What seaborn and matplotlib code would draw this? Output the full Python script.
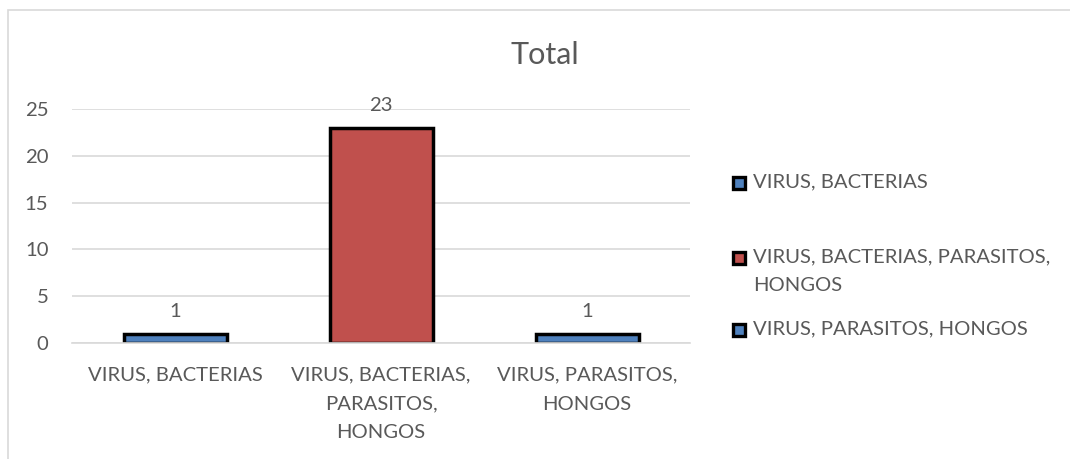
import matplotlib
matplotlib.use("Agg")
import matplotlib.pyplot as plt
from matplotlib.patches import Rectangle
import seaborn as sns
import pandas as pd

categories = ["VIRUS, BACTERIAS",
              "VIRUS, BACTERIAS, PARASITOS, HONGOS",
              "VIRUS, PARASITOS, HONGOS"]
tick_labels = ["VIRUS, BACTERIAS",
               "VIRUS, BACTERIAS,\nPARASITOS,\nHONGOS",
               "VIRUS, PARASITOS,\nHONGOS"]
legend_labels = ["VIRUS, BACTERIAS",
                 "VIRUS, BACTERIAS, PARASITOS,\nHONGOS",
                 "VIRUS, PARASITOS, HONGOS"]
values = [1, 23, 1]
colors = ["#4F81BD", "#C0504D", "#4F81BD"]

sns.set_style("white")
plt.rcParams["font.family"] = ["Lato", "DejaVu Sans"]
TXT = "#595959"
GRID = "#D9D9D9"
FS = 14.6

df = pd.DataFrame({"cat": categories, "val": values})

fig = plt.figure(figsize=(10.7, 4.59), dpi=100)
fig.patches.append(Rectangle((0.0075, -0.1), 1.2, 1.078, transform=fig.transFigure,
                             fill=False, edgecolor=GRID, linewidth=1.2))
ax = fig.add_axes([0.0673, 0.2527, 0.5776, 0.5098])

sns.barplot(data=df, x="cat", y="val", hue="cat", palette=colors,
            saturation=1, dodge=False, width=0.5, edgecolor="black",
            linewidth=2.5, legend=False, ax=ax)

ax.set_ylim(0, 25)
ax.set_xlim(-0.5, 2.5)
ax.set_yticks([0, 5, 10, 15, 20, 25])
ax.yaxis.grid(True, color=GRID, linewidth=1.2)
ax.set_axisbelow(True)
for s in ["left", "right", "top"]:
    ax.spines[s].set_visible(False)
ax.spines["bottom"].set_color(GRID)
ax.spines["bottom"].set_linewidth(1.2)
ax.spines["bottom"].set_zorder(5)

ax.set_xticks([0, 1, 2])
ax.set_xticklabels(tick_labels, fontsize=FS, color=TXT, linespacing=1.85,
                   va="top")
ax.set_xticks([-0.5, 0.5, 1.5, 2.5], minor=True)
ax.tick_params(axis="x", which="major", length=0, pad=17)
ax.tick_params(axis="x", which="minor", length=7, color=GRID, width=1.2)
ax.tick_params(axis="y", length=0, labelsize=FS, labelcolor=TXT, pad=17)
ax.set_xlabel("")
ax.set_ylabel("")

for i, v in enumerate(values):
    ax.annotate(str(v), (i, v), xytext=(0, 10), textcoords="offset points",
                ha="center", va="bottom", fontsize=FS, color=TXT)

fig.text(0.509, 0.88, "Total", ha="center", va="center", fontsize=22, color=TXT)

# legend entries: swatch aligned with the first text line
W, H = fig.get_size_inches() * fig.dpi
entry_y = [183, 258, 330]
for lab, c, y in zip(legend_labels, colors, entry_y):
    fig.patches.append(Rectangle(((733) / W, 1 - (y + 6) / H), 12 / W, 12 / H,
                                 transform=fig.transFigure, facecolor=c,
                                 edgecolor="black", linewidth=2.4))
    fig.text(753 / W, 1 - (y - 10) / H, lab, ha="left", va="top",
             fontsize=FS, color=TXT, linespacing=1.85)

fig.savefig("out.png", dpi=100)
